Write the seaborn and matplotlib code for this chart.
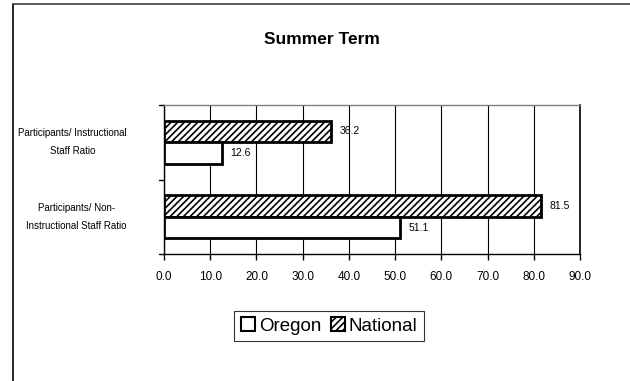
import numpy as np
import pandas as pd

import matplotlib
matplotlib.use("Agg")
import matplotlib.pyplot as plt
import matplotlib.patches as patches
import matplotlib.lines as mlines

import seaborn as sns

categories = ["Participants/ Instructional\nStaff Ratio",
              "Participants/ Non-\nInstructional Staff Ratio"]
oregon = [12.6, 51.1]
national = [36.2, 81.5]
xticks = [0, 10, 20, 30, 40, 50, 60, 70, 80, 90]

sns.set_style("white")
plt.rcParams['font.family'] = ['Liberation Sans Narrow', 'Liberation Sans', 'DejaVu Sans']
plt.rcParams['hatch.linewidth'] = 1.2
plt.rcParams['text.color'] = 'black'
plt.rcParams['xtick.color'] = 'black'
plt.rcParams['ytick.color'] = 'black'

df = pd.DataFrame({
    "category": categories * 2,
    "value": national + oregon,
    "series": ["National"] * len(categories) + ["Oregon"] * len(categories),
})

fig = plt.figure(figsize=(6.3, 3.81), dpi=100)
ax = fig.add_axes([164 / 630, 1 - 254 / 381, (580 - 164) / 630, (254 - 105) / 381])

sns.barplot(data=df, x="value", y="category", hue="series",
            hue_order=["National", "Oregon"], order=categories,
            palette=["white", "white"], edgecolor="black", linewidth=2,
            width=0.58, gap=0, ax=ax, legend=False, zorder=3)

# hatch the national bars
for bar in ax.containers[0]:
    bar.set_hatch("/////")
for cont in ax.containers:
    ax.bar_label(cont, labels=["%.1f" % v for v in cont.datavalues],
                 padding=6, fontsize=7.5)

ax.set_xlim(0, 90)
ax.set_xticks(xticks)
ax.set_xticklabels(["%.1f" % t for t in xticks], fontsize=8.5)
ax.set_ylim(1.5, -0.5)
ax.set_yticks([0, 1])
ax.set_yticklabels([])
ax.tick_params(axis="y", length=0)
ax.tick_params(axis="x", length=4, width=1, direction="out", bottom=True, pad=8)
for i, lab in enumerate(categories):
    ax.text(-37 / 416, i, lab, transform=ax.get_yaxis_transform(),
            ha="right", va="center", multialignment="center", fontsize=7,
            linespacing=2.0)
for b in [-0.5, 0.5, 1.5]:
    ax.plot([-0.012, 0], [b, b], transform=ax.get_yaxis_transform(),
            color="black", lw=1, clip_on=False)
ax.set_xlabel("")
ax.set_ylabel("")
ax.grid(axis="x", color="black", lw=0.8, zorder=0)
ax.set_axisbelow(True)
for s in ax.spines.values():
    s.set_color("black")
    s.set_linewidth(1)
ax.spines["top"].set_color("#808080")
ax.spines["right"].set_linewidth(1.2)

fig.text(322 / 630, 1 - 40 / 381, "Summer Term", ha="center", va="center",
         fontsize=12.5, fontweight="bold")

handles = [patches.Patch(facecolor="white", edgecolor="black", lw=1.5, label="Oregon"),
           patches.Patch(facecolor="white", edgecolor="black", lw=1.5,
                         hatch="/////", label="National")]
leg = fig.legend(handles=handles, loc="center", bbox_to_anchor=(329 / 630, 1 - 326 / 381),
                 ncol=2, fontsize=13.5, frameon=True, fancybox=False,
                 handlelength=0.75, handleheight=0.75, handletextpad=0.2,
                 columnspacing=0.5, borderpad=0.35)
leg.get_frame().set_edgecolor("black")
leg.get_frame().set_linewidth(0.8)

# page border: left and top edges only
fig.add_artist(mlines.Line2D([13 / 630, 13 / 630], [0, 1 - 4 / 381],
                             transform=fig.transFigure, color="black", lw=1.2))
fig.add_artist(mlines.Line2D([13 / 630, 1], [1 - 4 / 381, 1 - 4 / 381],
                             transform=fig.transFigure, color="#404040", lw=1.2))

fig.savefig("out.png", dpi=100)
